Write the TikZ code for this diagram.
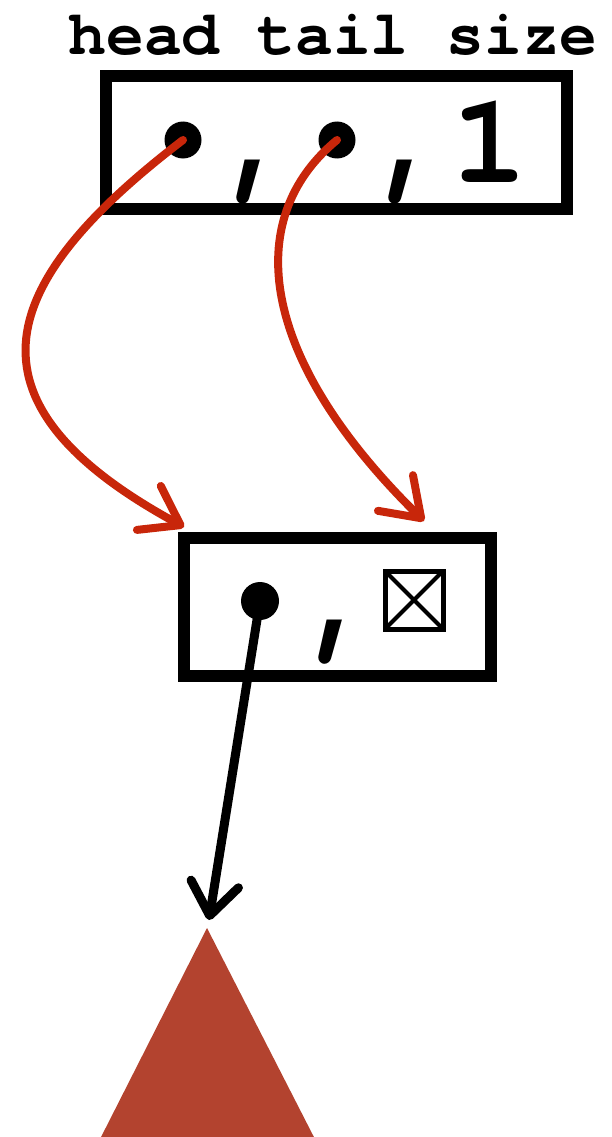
\documentclass[tikz,border=0pt]{standalone}
\usepackage{fontspec}
\setmonofont{TeX Gyre Cursor}
\usetikzlibrary{arrows.meta}
\definecolor{arrred}{HTML}{C8260A}
\definecolor{rust}{HTML}{B3432F}
\tikzset{
  cell/.style={draw=black, line width=12pt, rectangle, inner sep=0pt},
  dotnode/.style={circle, fill=black, inner sep=0pt, minimum size=37pt},
  bigtt/.style={font=\fontsize{128}{130}\selectfont\ttfamily\bfseries, inner sep=0pt, anchor=base},
  redarrow/.style={draw=arrred, line width=8pt, line cap=round, line join=round,
     -{Straight Barb[length=36pt,width=50pt,round]}},
  blackarrow/.style={draw=black, line width=9pt, line cap=round, line join=round,
     -{Straight Barb[length=32pt,width=48pt,round]}},
}
\begin{document}
\begin{tikzpicture}[x=1pt,y=-1pt]
\useasboundingbox (0,0) rectangle (612,1137);
% triangle
\fill[rust] (207,928) -- (97,1145) -- (318,1145) -- cycle;
\coordinate (apex) at (209,920);
% labels
\node[font=\fontsize{63}{70}\selectfont\ttfamily\bfseries, inner sep=0pt, anchor=base] (lbl) at (333,55) {head tail size};
% top box
\node[cell, minimum width=461pt, minimum height=133pt] (box1) at (336.5,142.5) {};
\node[dotnode] (d1) at (183,140) {};
\node[dotnode] (d2) at (337,140) {};
\node[bigtt] (c1) at (258,180) {,};
\node[bigtt] (c2) at (410,180) {,};
\node[bigtt] (one) at (490,182) {1};
% second box
\node[cell, minimum width=307pt, minimum height=138pt] (box2) at (337.5,607) {};
\node[dotnode, minimum size=38pt] (d3) at (260,601) {};
\node[bigtt] (c3) at (340,640) {,};
\node[draw=black, line width=5pt, minimum size=58pt, inner sep=0pt] (nil) at (414,600) {};
\draw[line width=4pt] ([shift={(2.5,2.5)}]nil.north west) -- ([shift={(-2.5,-2.5)}]nil.south east)
   ([shift={(-2.5,2.5)}]nil.north east) -- ([shift={(2.5,-2.5)}]nil.south west);
\coordinate (t1) at (184,527);
\coordinate (t2) at (424,521);
% arrows
\draw[redarrow] (d1.center) .. controls (0,280) and (-50,400) .. (t1);
\draw[redarrow] (d2.center) .. controls (240,220) and (260,360) .. (t2);
\draw[blackarrow] (d3.center) -- (apex);
\end{tikzpicture}
\end{document}
